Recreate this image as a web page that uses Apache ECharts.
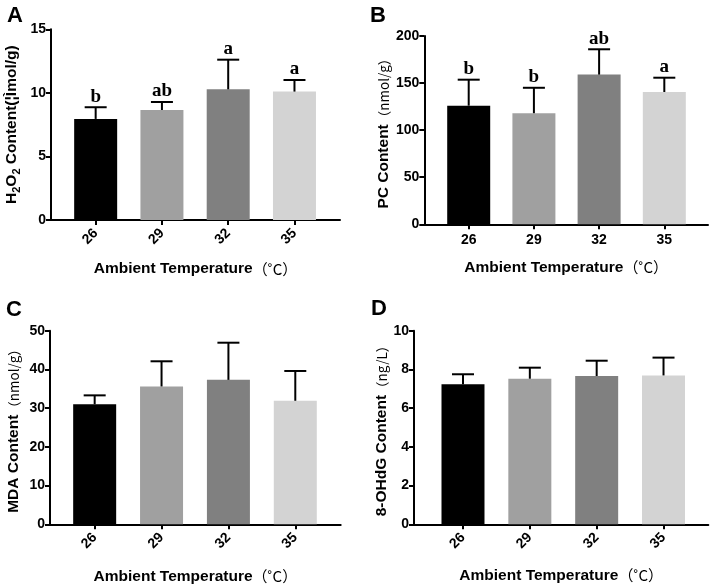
<!DOCTYPE html>
<html>
<head>
<meta charset="utf-8">
<script src="https://cdn.jsdelivr.net/npm/echarts@6/dist/echarts.min.js"></script>
<style>html,body{margin:0;padding:0;background:#fff}#c{width:711px;height:586px}</style>
</head>
<body>
<div id="c"></div>
<script>
const categories = ['26', '29', '32', '35'];
const barColors = ['#000000', '#a0a0a0', '#808080', '#d3d3d3'];

const h2o2Mean = [7.95, 8.65, 10.28, 10.1];
const h2o2Upper = [8.87, 9.28, 12.61, 11.01];
const h2o2Letters = ['b', 'ab', 'a', 'a'];

const pcMean = [126, 118, 159, 140.5];
const pcUpper = [153.6, 145, 185.9, 155.7];
const pcLetters = ['b', 'b', 'ab', 'a'];

const mdaMean = [31.0, 35.6, 37.3, 31.9];
const mdaUpper = [33.3, 42.1, 46.9, 39.6];

const ohdgMean = [7.23, 7.52, 7.66, 7.69];
const ohdgUpper = [7.75, 8.09, 8.45, 8.61];

const panelLetters = ['A', 'B', 'C', 'D'];

const SANS = '"Liberation Sans", Arial, sans-serif';
const CJK = '"Noto Sans CJK SC", sans-serif';

const positions = categories.map((c, i) => i + 1);

const richName = {
  t: { fontSize: 15.5, fontWeight: 'bold', fontFamily: SANS, color: '#000' },
  s: { fontSize: 11, fontWeight: 'bold', fontFamily: SANS, color: '#000', verticalAlign: 'bottom', lineHeight: 20 },
  u: { fontSize: 13.5, fontWeight: 'normal', fontFamily: CJK, color: '#000' },
  c: { fontSize: 15, fontWeight: 'normal', fontFamily: CJK, color: '#000' }
};

const panels = [
  { grid: { left: 51, top: 29.3, width: 289, height: 190.7 }, xMin: 0.326, xMax: 4.687, yMax: 15, yInt: 5,
    yName: '{t|H}{s|2}{t|O}{s|2}{t| Content(¦Ìmol/g)}', yGap: 29, xGap: 41, rotate: 45,
    mean: h2o2Mean, upper: h2o2Upper, letters: h2o2Letters },
  { grid: { left: 424.3, top: 36, width: 283.7, height: 188.3 }, xMin: 0.319, xMax: 4.67, yMax: 200, yInt: 50,
    yName: '{t|PC Content}{u|（nmol/g）}', yGap: 28, xGap: 35, rotate: 0,
    mean: pcMean, upper: pcUpper, letters: pcLetters },
  { grid: { left: 50, top: 330.7, width: 290.7, height: 193.6 }, xMin: 0.332, xMax: 4.679, yMax: 50, yInt: 10,
    yName: '{t|MDA Content}{u|（nmol/g）}', yGap: 28, xGap: 44, rotate: 45,
    mean: mdaMean, upper: mdaUpper, letters: null },
  { grid: { left: 414, top: 330.7, width: 294.3, height: 193.6 }, xMin: 0.267, xMax: 4.67, yMax: 10, yInt: 2,
    yName: '{t|8-OHdG Content}{u|（ng/L）}', yGap: 17, xGap: 43, rotate: 45,
    mean: ohdgMean, upper: ohdgUpper, letters: null }
];

const option = {
  animation: false,
  backgroundColor: '#fff',
  title: [
    { text: panelLetters[0], left: 2, top: 0 },
    { text: panelLetters[1], left: 365, top: 0 },
    { text: panelLetters[2], left: 1, top: 294 },
    { text: panelLetters[3], left: 366, top: 293 }
  ].map(t => Object.assign(t, { textStyle: { fontSize: 22, fontWeight: 'bold', fontFamily: SANS, color: '#000' } })),
  grid: panels.map(p => p.grid),
  xAxis: panels.map((p, i) => ({
    type: 'value', gridIndex: i, min: p.xMin, max: p.xMax,
    splitLine: { show: false },
    axisLine: { show: true, lineStyle: { color: '#000', width: 2 } },
    axisTick: { show: true, customValues: positions, length: 5, lineStyle: { color: '#000', width: 2 } },
    axisLabel: {
      customValues: positions, rotate: p.rotate, margin: p.rotate ? 11 : 9,
      fontSize: 14, fontWeight: 'bold', fontFamily: SANS, color: '#000',
      formatter: v => categories[Math.round(v) - 1]
    },
    name: '{t|Ambient Temperature}{c|（˚C）}', nameLocation: 'middle', nameGap: p.xGap,
    nameTextStyle: { rich: richName }
  })),
  yAxis: panels.map((p, i) => ({
    type: 'value', gridIndex: i, min: 0, max: p.yMax, interval: p.yInt,
    splitLine: { show: false },
    axisLine: { show: true, lineStyle: { color: '#000', width: 2 } },
    axisTick: { show: true, length: 5, lineStyle: { color: '#000', width: 2 } },
    axisLabel: { fontSize: 14, fontWeight: 'bold', fontFamily: SANS, color: '#000', margin: 5 },
    name: p.yName, nameLocation: 'middle', nameRotate: 90, nameGap: p.yGap,
    nameTextStyle: { rich: richName }
  })),
  series: []
};

panels.forEach((p, i) => {
  option.series.push({
    type: 'bar', xAxisIndex: i, yAxisIndex: i, barWidth: 43,
    data: p.mean.map((v, k) => ({ value: [positions[k], v], itemStyle: { color: barColors[k] } })),
    z: 2
  });
  const letters = p.letters;
  option.series.push({
    type: 'custom', xAxisIndex: i, yAxisIndex: i, z: 3,
    data: p.mean.map((v, k) => [positions[k], v, p.upper[k]]),
    renderItem: function (params, api) {
      const x = api.value(0), m = api.value(1), u = api.value(2);
      const p0 = api.coord([x, m]);
      const p1 = api.coord([x, u]);
      const children = [
        { type: 'line', shape: { x1: p0[0], y1: p0[1], x2: p1[0], y2: p1[1] }, style: { stroke: '#000', lineWidth: 2 } },
        { type: 'line', shape: { x1: p1[0] - 11, y1: p1[1], x2: p1[0] + 11, y2: p1[1] }, style: { stroke: '#000', lineWidth: 2 } }
      ];
      if (letters && letters[params.dataIndex]) {
        children.push({
          type: 'text', x: p1[0], y: p1[1] - 1,
          style: { text: letters[params.dataIndex], align: 'center', verticalAlign: 'bottom',
                   font: 'bold 19px "Liberation Serif", "Times New Roman", serif', fill: '#000' }
        });
      }
      return { type: 'group', children: children };
    }
  });
});

const chart = echarts.init(document.getElementById('c'), null, { renderer: 'canvas' });
chart.setOption(option);
</script>
</body>
</html>
